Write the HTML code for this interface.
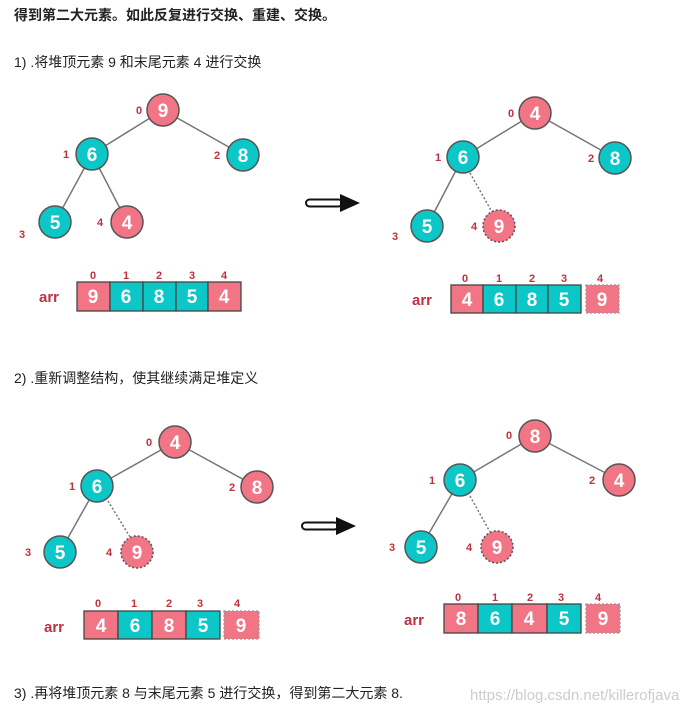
<!DOCTYPE html>
<html><head><meta charset="utf-8"><style>
html,body{margin:0;padding:0;background:#fff;}
svg{display:block}
.t{font-family:"Liberation Sans","Noto Sans CJK SC",sans-serif;font-size:14px;fill:#222}
.n{font-family:"Liberation Sans",sans-serif;font-weight:bold;font-size:19px;fill:#fff;text-anchor:middle}
.i{font-family:"Liberation Sans",sans-serif;font-weight:bold;font-size:11px;fill:#c03040;text-anchor:middle}
.a{font-family:"Liberation Sans",sans-serif;font-weight:bold;font-size:15px;fill:#c03040}
</style></head><body>
<svg width="697" height="714" viewBox="0 0 697 714" xmlns="http://www.w3.org/2000/svg">
<text class="t" x="14" y="20" style="font-weight:bold">得到第二大元素。如此反复进行交换、重建、交换。</text>
<text class="t" x="14" y="67">1) .将堆顶元素 9 和末尾元素 4 进行交换</text>
<text class="t" x="14" y="383">2) .重新调整结构，使其继续满足堆定义</text>
<text class="t" x="14" y="698">3) .再将堆顶元素 8 与末尾元素 5 进行交换，得到第二大元素 8.</text>
<text x="470" y="700" style="font-family:'Liberation Sans',sans-serif;font-size:15px;fill:#ccc">https://blog.csdn.net/killerofjava</text>

<defs>
<g id="arrow">
<rect x="0" y="-3.5" width="36" height="7" rx="3.5" fill="#fff" stroke="#111" stroke-width="2"/>
<polygon points="34,-9 54,0 34,9" fill="#111"/>
</g>
</defs>
<use href="#arrow" x="306" y="203"/>
<use href="#arrow" x="302" y="526"/>

<g stroke="#777" stroke-width="1.5">
<!-- panel1 -->
<line x1="163" y1="110" x2="92" y2="154"/><line x1="163" y1="110" x2="243" y2="155"/>
<line x1="92" y1="154" x2="55" y2="222"/><line x1="92" y1="154" x2="127" y2="222"/>
<!-- panel2 -->
<line x1="535" y1="113" x2="463" y2="157"/><line x1="535" y1="113" x2="615" y2="158"/>
<line x1="463" y1="157" x2="427" y2="226"/>
<line x1="470" y1="173" x2="492" y2="212" stroke-dasharray="2,2"/>
<!-- panel3 -->
<line x1="175" y1="442" x2="97" y2="486"/><line x1="175" y1="442" x2="257" y2="487"/>
<line x1="97" y1="486" x2="60" y2="552"/>
<line x1="108" y1="501" x2="130" y2="537" stroke-dasharray="2,2"/>
<!-- panel4 -->
<line x1="535" y1="436" x2="460" y2="480"/><line x1="535" y1="436" x2="619" y2="480"/>
<line x1="460" y1="480" x2="421" y2="547"/>
<line x1="470" y1="496" x2="490" y2="532" stroke-dasharray="2,2"/>
</g>

<g stroke="#555" stroke-width="1.5">
<circle cx="163" cy="110" r="16" fill="#f27585"/>
<circle cx="92" cy="154" r="16" fill="#0cc7c7"/>
<circle cx="243" cy="155" r="16" fill="#0cc7c7"/>
<circle cx="55" cy="222" r="16" fill="#0cc7c7"/>
<circle cx="127" cy="222" r="16" fill="#f27585"/>

<circle cx="535" cy="113" r="16" fill="#f27585"/>
<circle cx="463" cy="157" r="16" fill="#0cc7c7"/>
<circle cx="615" cy="158" r="16" fill="#0cc7c7"/>
<circle cx="427" cy="226" r="16" fill="#0cc7c7"/>
<circle cx="499" cy="226" r="16" fill="#f27585" stroke-dasharray="2,2"/>

<circle cx="175" cy="442" r="16" fill="#f27585"/>
<circle cx="97" cy="486" r="16" fill="#0cc7c7"/>
<circle cx="257" cy="487" r="16" fill="#f27585"/>
<circle cx="60" cy="552" r="16" fill="#0cc7c7"/>
<circle cx="137" cy="552" r="16" fill="#f27585" stroke-dasharray="2,2"/>

<circle cx="535" cy="436" r="16" fill="#f27585"/>
<circle cx="460" cy="480" r="16" fill="#0cc7c7"/>
<circle cx="619" cy="480" r="16" fill="#f27585"/>
<circle cx="421" cy="547" r="16" fill="#0cc7c7"/>
<circle cx="497" cy="547" r="16" fill="#f27585" stroke-dasharray="2,2"/>
</g>
<g class="n">
<text x="163" y="117">9</text><text x="92" y="161">6</text><text x="243" y="162">8</text><text x="55" y="229">5</text><text x="127" y="229">4</text>
<text x="535" y="120">4</text><text x="463" y="164">6</text><text x="615" y="165">8</text><text x="427" y="233">5</text><text x="499" y="233">9</text>
<text x="175" y="449">4</text><text x="97" y="493">6</text><text x="257" y="494">8</text><text x="60" y="559">5</text><text x="137" y="559">9</text>
<text x="535" y="443">8</text><text x="460" y="487">6</text><text x="619" y="487">4</text><text x="421" y="554">5</text><text x="497" y="554">9</text>
</g>
<g class="i">
<text x="139" y="114">0</text><text x="66" y="158">1</text><text x="217" y="159">2</text><text x="22" y="238">3</text><text x="100" y="226">4</text>
<text x="511" y="117">0</text><text x="438" y="161">1</text><text x="591" y="162">2</text><text x="395" y="240">3</text><text x="474" y="230">4</text>
<text x="149" y="446">0</text><text x="72" y="490">1</text><text x="232" y="491">2</text><text x="28" y="556">3</text><text x="109" y="556">4</text>
<text x="509" y="439">0</text><text x="432" y="484">1</text><text x="592" y="484">2</text><text x="392" y="551">3</text><text x="469" y="551">4</text>
</g>

<!-- arrays -->
<g stroke="#444" stroke-width="1.3">
<rect x="77" y="282" width="33" height="29" fill="#f27585"/>
<rect x="110" y="282" width="33" height="29" fill="#0cc7c7"/>
<rect x="143" y="282" width="33" height="29" fill="#0cc7c7"/>
<rect x="176" y="282" width="32" height="29" fill="#0cc7c7"/>
<rect x="208" y="282" width="33" height="29" fill="#f27585"/>

<rect x="451" y="285" width="32" height="28" fill="#f27585"/>
<rect x="483" y="285" width="33" height="28" fill="#0cc7c7"/>
<rect x="516" y="285" width="32" height="28" fill="#0cc7c7"/>
<rect x="548" y="285" width="33" height="28" fill="#0cc7c7"/>
<rect x="586" y="285" width="33" height="28" fill="#f27585" stroke="#999" stroke-dasharray="2,2"/>

<rect x="84" y="611" width="34" height="28" fill="#f27585"/>
<rect x="118" y="611" width="34" height="28" fill="#0cc7c7"/>
<rect x="152" y="611" width="34" height="28" fill="#f27585"/>
<rect x="186" y="611" width="34" height="28" fill="#0cc7c7"/>
<rect x="224" y="611" width="35" height="28" fill="#f27585" stroke="#999" stroke-dasharray="2,2"/>

<rect x="444" y="604" width="34" height="29" fill="#f27585"/>
<rect x="478" y="604" width="34" height="29" fill="#0cc7c7"/>
<rect x="512" y="604" width="35" height="29" fill="#f27585"/>
<rect x="547" y="604" width="34" height="29" fill="#0cc7c7"/>
<rect x="586" y="604" width="34" height="29" fill="#f27585" stroke="#999" stroke-dasharray="2,2"/>
</g>
<g class="n">
<text x="93" y="303">9</text><text x="126" y="303">6</text><text x="159" y="303">8</text><text x="192" y="303">5</text><text x="224" y="303">4</text>
<text x="467" y="306">4</text><text x="499" y="306">6</text><text x="532" y="306">8</text><text x="564" y="306">5</text><text x="602" y="306">9</text>
<text x="101" y="632">4</text><text x="135" y="632">6</text><text x="169" y="632">8</text><text x="203" y="632">5</text><text x="241" y="632">9</text>
<text x="461" y="625">8</text><text x="495" y="625">6</text><text x="529" y="625">4</text><text x="564" y="625">5</text><text x="603" y="625">9</text>
</g>
<g class="i">
<text x="93" y="279">0</text><text x="126" y="279">1</text><text x="159" y="279">2</text><text x="192" y="279">3</text><text x="224" y="279">4</text>
<text x="465" y="282">0</text><text x="499" y="282">1</text><text x="532" y="282">2</text><text x="564" y="282">3</text><text x="600" y="282">4</text>
<text x="98" y="607">0</text><text x="134" y="607">1</text><text x="169" y="607">2</text><text x="200" y="607">3</text><text x="237" y="607">4</text>
<text x="458" y="601">0</text><text x="495" y="601">1</text><text x="530" y="601">2</text><text x="561" y="601">3</text><text x="598" y="601">4</text>
</g>
<text class="a" x="39" y="302">arr</text>
<text class="a" x="412" y="305">arr</text>
<text class="a" x="44" y="632">arr</text>
<text class="a" x="404" y="625">arr</text>
</svg>
</body></html>
